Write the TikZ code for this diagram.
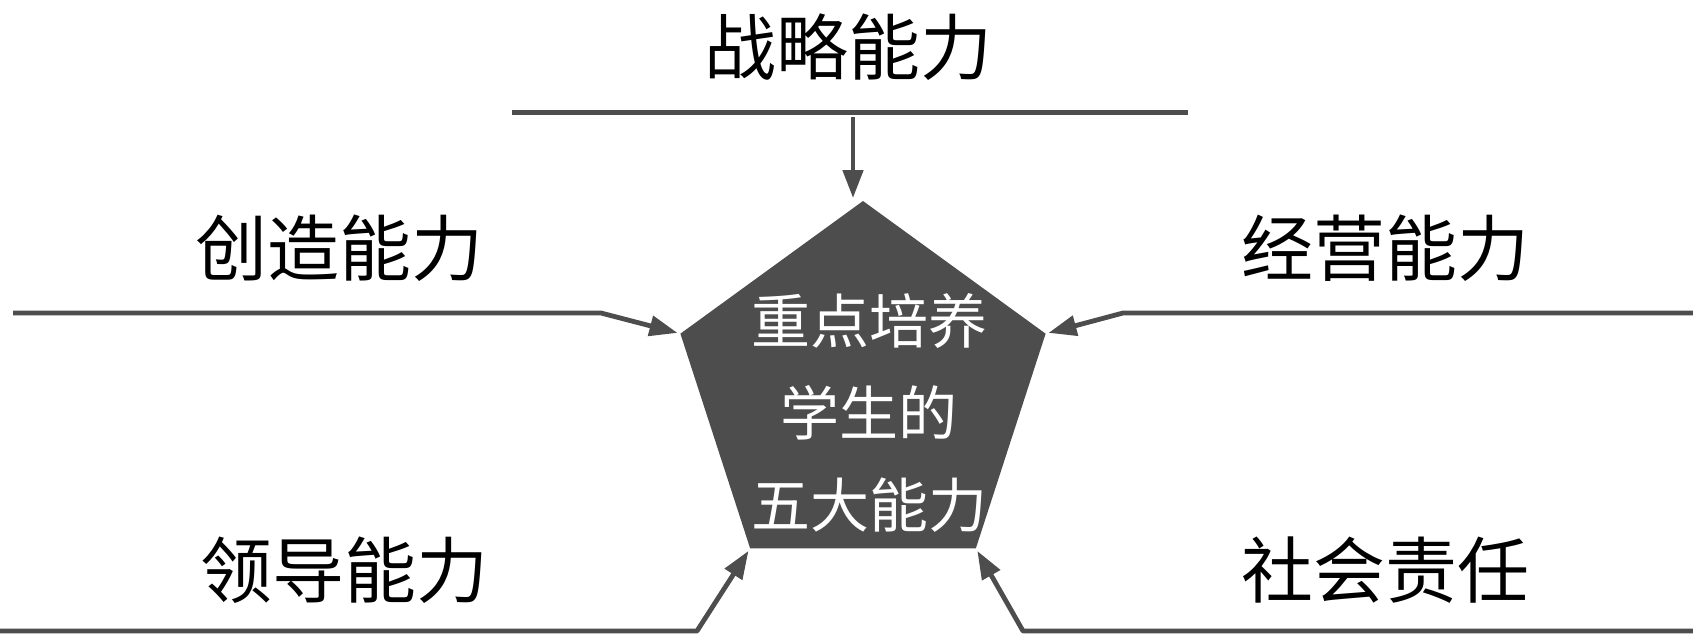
\documentclass[tikz,border=0pt]{standalone}
\usepackage{fontspec}
\setmainfont{Noto Sans CJK SC}
\usepackage{tikz}
\usetikzlibrary{shapes.geometric,arrows.meta}
\definecolor{darkline}{RGB}{77,77,77}

\tikzset{
  capline/.style={draw=darkline, line width=2.5pt},
  feedarrow/.style={draw=darkline, line width=2.4pt, line join=round, -{Triangle[length=14pt,width=10pt]}, shorten >=1.5pt},
  abilitytext/.style={font=\fontsize{36}{40}\selectfont, inner sep=0pt},
  pentabox/.style={regular polygon, regular polygon sides=5, minimum size=192pt, inner sep=0pt, outer sep=0pt, fill=darkline, draw=none},
}

\begin{document}
\begin{tikzpicture}[x=0.5pt,y=0.5pt,yscale=-1,xscale=1]
        \useasboundingbox (0,0) rectangle (1693,633);

        % Pentagon
        \node[pentabox] (core) at (863,393) {};
        \node[font=\fontsize{29.5}{46}\selectfont, text=white, align=center, inner sep=0pt] (core-text) at (869,413) {重点培养\\学生的\\五大能力};

        % Text Node
        \node[abilitytext] (strategy) at (848,47) {战略能力};
        % Text Node
        \node[abilitytext] (create) at (339,248) {创造能力};
        % Text Node
        \node[abilitytext] (manage) at (1385,248) {经营能力};
        % Text Node
        \node[abilitytext] (lead) at (344,570) {领导能力};
        % Text Node
        \node[abilitytext] (social) at (1385,570) {社会责任};

        % Line ends
        \coordinate (strategy-l) at (512,112);
        \coordinate (strategy-r) at (1188,112);
        \coordinate (strategy-drop) at (853,117);
        \coordinate (create-l) at (13,313);
        \coordinate (create-b) at (601,313);
        \coordinate (manage-r) at (1693,313);
        \coordinate (manage-b) at (1123,313);
        \coordinate (lead-l) at (0,631);
        \coordinate (lead-b) at (697,631);
        \coordinate (social-r) at (1693,631);
        \coordinate (social-b) at (1023,631);

        %Straight Lines
        \draw[capline] (strategy-l) -- (strategy-r);
        \draw[feedarrow] (strategy-drop) -- (strategy-drop |- core.corner 1);
        %Straight Lines
        \draw[feedarrow] (create-l) -- (create-b) -- (core.corner 2);
        \draw[feedarrow] (manage-r) -- (manage-b) -- (core.corner 5);
        %Straight Lines
        \draw[feedarrow] (lead-l) -- (lead-b) -- (core.corner 3);
        \draw[feedarrow] (social-r) -- (social-b) -- (core.corner 4);

\end{tikzpicture}
\end{document}
